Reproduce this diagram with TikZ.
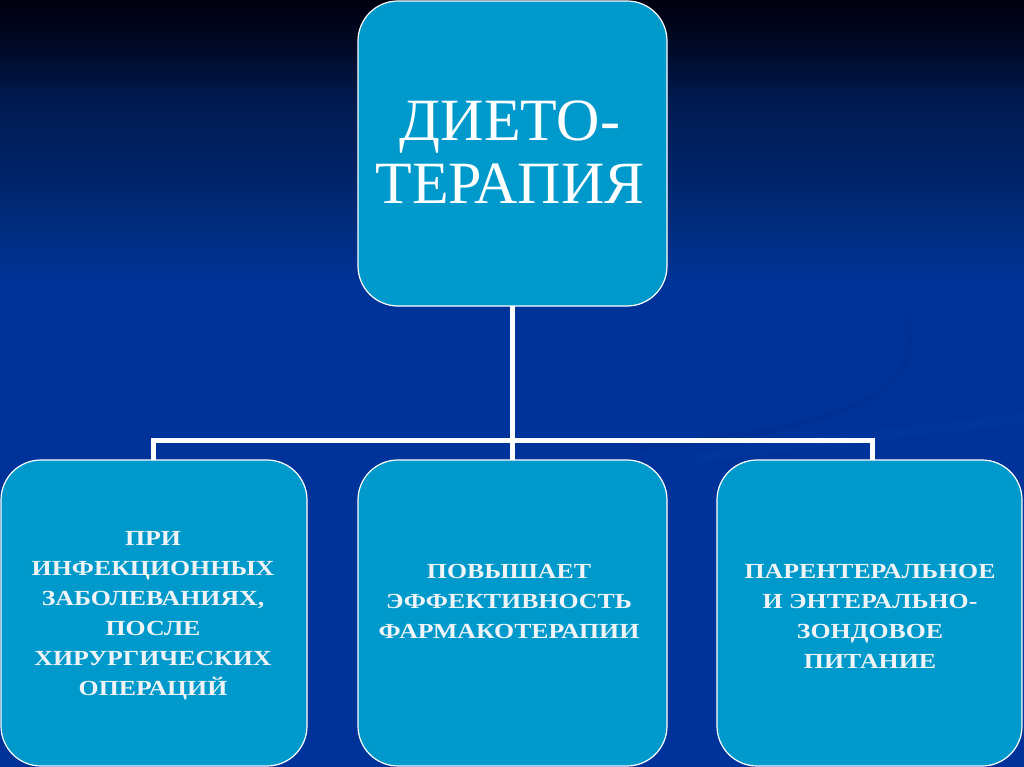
\documentclass[tikz,border=0pt]{standalone}
\usepackage{fontspec}
\setmainfont{Liberation Serif}
\newfontfamily\boxfont[FakeStretch=1.2]{Liberation Serif}
\definecolor{bgblue}{HTML}{003399}
\definecolor{bgA}{HTML}{002D80}
\definecolor{bgB}{HTML}{002266}
\definecolor{bgC}{HTML}{001A50}
\definecolor{bgD}{HTML}{000A28}
\definecolor{bgtop}{HTML}{000010}
\definecolor{swdark}{HTML}{002B88}
\definecolor{swlight}{HTML}{0A3EA6}
\definecolor{boxfill}{HTML}{0099CC}
\definecolor{boxtext}{HTML}{F0F4F6}
\pgfdeclareverticalshading{bgshade}{100bp}{color(0bp)=(bgblue); color(56.5bp)=(bgblue); color(60bp)=(bgA); color(64bp)=(bgB); color(68.5bp)=(bgC); color(71.75bp)=(bgD); color(75bp)=(bgtop); color(100bp)=(bgtop)}
\tikzset{
  box/.style={draw=white, line width=1.2pt, fill=boxfill, rounded corners=40pt},
  toptext/.style={text=white, font=\fontsize{60}{63}\selectfont, align=center},
  lowtext/.style={text=boxtext, font=\boxfont\bfseries\fontsize{21.5}{30}\selectfont, align=center},
  link/.style={draw=white, line width=5pt},
  swoosh/.style={line width=7pt, line cap=round, opacity=0.25}
}
\begin{document}
\begin{tikzpicture}[x=1pt,y=-1pt]
\useasboundingbox (0,0) rectangle (1024,767);
\begin{scope}[y=1pt]
\shade[shading=bgshade] (0,-767) rectangle (1024,0);
\end{scope}
% faint background swooshes
\draw[swoosh, draw=swdark] (905,318) .. controls (930,390) and (850,428) .. (640,448);
\draw[swoosh, draw=swlight, line width=10pt, opacity=0.2] (700,458) .. controls (820,440) and (950,428) .. (1024,418);
% boxes
\draw[box] (358,1) rectangle (667,306);
\draw[box] (1,460) rectangle (307,766);
\draw[box] (358,460) rectangle (667,766);
\draw[box] (717,460) rectangle (1022,766);
% anchors for connectors
\coordinate (topS) at (512.5,306);
\coordinate (leftN) at (153,460);
\coordinate (midN) at (512.5,460);
\coordinate (rightN) at (872,460);
\coordinate (hub) at (512.5,440);
\draw[link] (topS) -- (hub);
\draw[link] (hub) -| (leftN);
\draw[link] (hub) -| (rightN);
\draw[link] (hub) -- (midN);
% texts
\node[toptext] (top) at (510,152) {ДИЕТО-\\ТЕРАПИЯ};
\node[lowtext] (left) at (153,616) {ПРИ\\ИНФЕКЦИОННЫХ\\ЗАБОЛЕВАНИЯХ,\\ПОСЛЕ\\ХИРУРГИЧЕСКИХ\\ОПЕРАЦИЙ};
\node[lowtext] (mid) at (509,601) {ПОВЫШАЕТ\\ЭФФЕКТИВНОСТЬ\\ФАРМАКОТЕРАПИИ};
\node[lowtext] (right) at (870,616) {ПАРЕНТЕРАЛЬНОЕ\\И ЭНТЕРАЛЬНО-\\ЗОНДОВОЕ\\ПИТАНИЕ};
\end{tikzpicture}
\end{document}
